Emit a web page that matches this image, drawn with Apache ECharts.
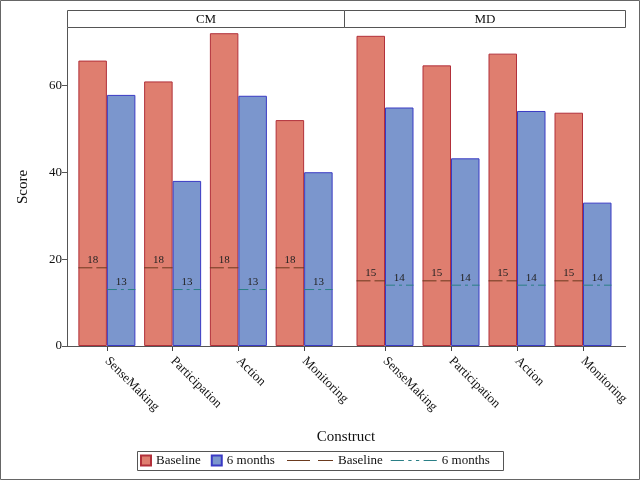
<!DOCTYPE html>
<html>
<head>
<meta charset="utf-8">
<script src="https://cdn.jsdelivr.net/npm/echarts@6/dist/echarts.min.js"></script>
<style>
    html, body { margin: 0; padding: 0; background: #fff; }
    #chart { width: 640px; height: 480px; }
</style>
</head>
<body>
<div id="chart"></div>
<script>
// data
var categories = ['SenseMaking', 'Participation', 'Action', 'Monitoring']
var panels = ['CM', 'MD']
var cmBaseline = [65.7, 60.9, 72.0, 52.0]
var cmSixMonths = [57.8, 38.0, 57.6, 40.0]
var mdBaseline = [71.4, 64.6, 67.3, 53.7]
var mdSixMonths = [54.9, 43.2, 54.1, 33.0]
// reference lines (one value per panel)
var refBaseline = [18, 15]
var refSixMonths = [13, 14]

var FONT = 'Liberation Serif'
var RED = '#DF7E6F'
var RED_EDGE = '#B2303A'
var BLUE = '#7B96CD'
var BLUE_EDGE = '#3A3AC4'
var LINE_BASE = '#6B3A1E'
var LINE_SIX = '#2A7F86'
var BAR_W = 28.5

function refPoints (v) {
    return categories.map(function (c, i) { return [i, v] })
}

// draws a short line across one bar, with its value written above
function makeRef (side, dash, color) {
    return function (params, api) {
        var p = api.coord([api.value(0), api.value(1)])
        var x0 = side < 0 ? p[0] - BAR_W : p[0]
        var x1 = x0 + BAR_W
        return {
            type: 'group',
            children: [{
                type: 'line',
                shape: {x1: x0, y1: p[1], x2: x1, y2: p[1]},
                style: {stroke: color, lineWidth: 1, lineDash: dash}
            }, {
                type: 'text',
                x: (x0 + x1) / 2,
                y: p[1] - 2,
                style: {
                    text: String(api.value(1)),
                    fill: '#222',
                    font: '11px "' + FONT + '"',
                    align: 'center',
                    verticalAlign: 'bottom'
                }
            }]
        }
    }
}

var myChart = echarts.init(document.getElementById('chart'), null, {renderer: 'canvas'})

var xAxisBase = {
    type: 'category',
    data: categories,
    boundaryGap: true,
    axisLine: {show: false},
    axisTick: {show: true, alignWithLabel: true, length: 5, lineStyle: {color: '#444'}},
    axisLabel: {rotate: -45, margin: 13, padding: [16, 0, 0, 0], fontFamily: FONT, fontSize: 13, color: '#111'},
    splitLine: {show: false}
}
var yAxisBase = {
    type: 'value',
    min: 0,
    max: 73.2,
    interval: 20,
    splitLine: {show: false}
}

var barSeries = []
var seriesData = [[cmBaseline, cmSixMonths], [mdBaseline, mdSixMonths]]
for (var k = 0; k < 2; k++) {
    barSeries.push({
        name: 'Baseline',
        type: 'bar',
        xAxisIndex: k,
        yAxisIndex: k,
        data: seriesData[k][0],
        barWidth: BAR_W,
        barGap: '0%',
        itemStyle: {color: RED, borderColor: RED_EDGE, borderWidth: 1},
        silent: true
    })
    barSeries.push({
        name: '6 months',
        type: 'bar',
        xAxisIndex: k,
        yAxisIndex: k,
        data: seriesData[k][1],
        barWidth: BAR_W,
        barGap: '0%',
        itemStyle: {color: BLUE, borderColor: BLUE_EDGE, borderWidth: 1},
        silent: true
    })
    barSeries.push({
        name: 'Baseline ',
        type: 'custom',
        xAxisIndex: k,
        yAxisIndex: k,
        data: refPoints(refBaseline[k]),
        renderItem: makeRef(-1, [14, 4], LINE_BASE),
        itemStyle: {color: LINE_BASE},
        z: 5,
        silent: true
    })
    barSeries.push({
        name: '6 months ',
        type: 'custom',
        xAxisIndex: k,
        yAxisIndex: k,
        data: refPoints(refSixMonths[k]),
        renderItem: makeRef(1, [10, 4, 3, 4], LINE_SIX),
        itemStyle: {color: LINE_SIX},
        z: 5,
        silent: true
    })
}

myChart.setOption({
    animation: false,
    textStyle: {fontFamily: FONT},
    grid: [
        {left: 74, right: 303, top: 28, bottom: 134},
        {left: 352, right: 24, top: 28, bottom: 134}
    ],
    xAxis: [
        Object.assign({gridIndex: 0}, xAxisBase),
        Object.assign({gridIndex: 1}, xAxisBase)
    ],
    yAxis: [
        Object.assign({
            gridIndex: 0,
            offset: 7,
            name: 'Score',
            nameLocation: 'middle',
            nameGap: 36,
            nameTextStyle: {fontFamily: FONT, fontSize: 15, color: '#111'},
            axisLine: {show: true, lineStyle: {color: '#555'}},
            axisTick: {show: true, length: 5, lineStyle: {color: '#555'}},
            axisLabel: {fontFamily: FONT, fontSize: 13, color: '#111', margin: 5, showMaxLabel: false}
        }, yAxisBase),
        Object.assign({
            gridIndex: 1,
            axisLine: {show: false},
            axisTick: {show: false},
            axisLabel: {show: false}
        }, yAxisBase)
    ],
    legend: [{
        data: ['Baseline', '6 months'],
        left: 140,
        top: 453,
        itemWidth: 10,
        itemHeight: 10,
        itemGap: 10,
        padding: 0,
        icon: 'rect',
        textStyle: {fontFamily: FONT, fontSize: 13, color: '#111', lineHeight: 15},
        selectedMode: false
    }, {
        data: [
            {name: 'Baseline ', icon: 'path://M0,0h23v1h-23zM31,0h15v1h-15z'},
            {name: '6 months ', icon: 'path://M0,0h12v1h-12zM16,0h3v1h-3zM23,0h3v1h-3zM30,0h12v1h-12z'}
        ],
        left: 287,
        top: 453,
        itemWidth: 46,
        itemHeight: 2,
        itemGap: 8,
        padding: 0,
        formatter: function (name) { return name.trim() },
        textStyle: {fontFamily: FONT, fontSize: 13, color: '#111', lineHeight: 15},
        selectedMode: false
    }],
    graphic: [
        {type: 'rect', shape: {x: 0.5, y: 0.5, width: 639, height: 479}, style: {fill: 'none', stroke: '#666'}, silent: true},
        {type: 'rect', shape: {x: 67.5, y: 10.5, width: 277, height: 17}, style: {fill: '#fff', stroke: '#555'}, silent: true},
        {type: 'rect', shape: {x: 344.5, y: 10.5, width: 281, height: 17}, style: {fill: '#fff', stroke: '#555'}, silent: true},
        {type: 'text', x: 206, y: 19.5, style: {text: panels[0], font: '13px "' + FONT + '"', fill: '#111', align: 'center', verticalAlign: 'middle'}},
        {type: 'text', x: 485, y: 19.5, style: {text: panels[1], font: '13px "' + FONT + '"', fill: '#111', align: 'center', verticalAlign: 'middle'}},
        {type: 'line', shape: {x1: 62, y1: 346.5, x2: 626, y2: 346.5}, style: {stroke: '#555', lineWidth: 1}, z: 10, silent: true},
        {type: 'text', x: 346, y: 437, style: {text: 'Construct', font: '15px "' + FONT + '"', fill: '#111', align: 'center', verticalAlign: 'middle'}},
        {type: 'rect', shape: {x: 137.5, y: 451.5, width: 366, height: 19}, style: {fill: 'none', stroke: '#555'}, silent: true}
    ],
    series: barSeries
})
window.onresize = myChart.resize
</script>
</body>
</html>
